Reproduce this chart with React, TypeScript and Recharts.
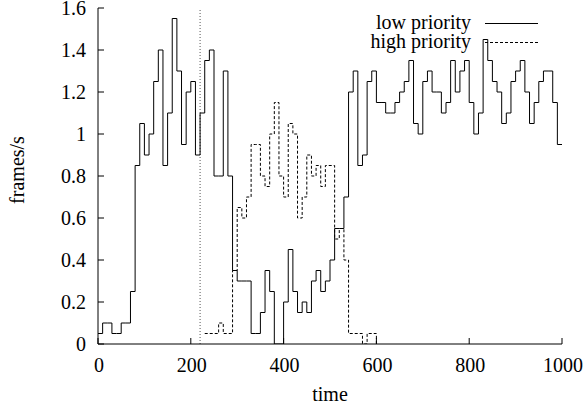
import React from "react";
import { LineChart, Line, XAxis, YAxis, ReferenceLine } from "recharts";

const times = [
  0, 10, 20, 30, 40, 50, 60, 70, 80, 90,
  100, 110, 120, 130, 140, 150, 160, 170, 180, 190,
  200, 210, 220, 230, 240, 250, 260, 270, 280, 290,
  300, 310, 320, 330, 340, 350, 360, 370, 380, 390,
  400, 410, 420, 430, 440, 450, 460, 470, 480, 490,
  500, 510, 520, 530, 540, 550, 560, 570, 580, 590,
  600, 610, 620, 630, 640, 650, 660, 670, 680, 690,
  700, 710, 720, 730, 740, 750, 760, 770, 780, 790,
  800, 810, 820, 830, 840, 850, 860, 870, 880, 890,
  900, 910, 920, 930, 940, 950, 960, 970, 980, 990,
  1000,
];

const lowPriority = [
  0.05, 0.1, 0.1, 0.05, 0.05, 0.1, 0.1, 0.25, 0.85, 1.05,
  0.9, 1.0, 1.25, 1.4, 0.85, 1.1, 1.55, 1.3, 0.95, 1.2,
  1.25, 0.9, 1.1, 1.35, 1.4, 0.8, 0.8, 1.3, 0.8, 0.35,
  0.3, 0.3, 0.3, 0.05, 0.05, 0.15, 0.35, 0.25, 0, 0,
  0.2, 0.45, 0.25, 0.15, 0.2, 0.15, 0.3, 0.35, 0.25, 0.3,
  0.4, 0.55, 0.55, 0.7, 1.2, 1.3, 0.85, 0.9, 1.25, 1.3,
  1.15, 1.15, 1.1, 1.1, 1.15, 1.2, 1.25, 1.35, 1.05, 1.0,
  1.25, 1.3, 1.2, 1.2, 1.1, 1.15, 1.35, 1.2, 1.3, 1.35,
  1.15, 1.0, 1.1, 1.45, 1.35, 1.25, 1.2, 1.05, 1.1, 1.25,
  1.3, 1.35, 1.2, 1.05, 1.15, 1.25, 1.3, 1.3, 1.15, 0.95,
  0.95,
];

// high priority starts at t=230 and ends at t=600
const highStartTime = 230;
const highPriority = [
  0.05, 0.05, 0.05, 0.1, 0.05, 0.05, 0.35,
  0.65, 0.6, 0.7, 0.95, 0.95, 0.8, 0.75, 1.0, 1.15, 0.8,
  0.7, 1.05, 1.0, 0.6, 0.7, 0.9, 0.8, 0.85, 0.75, 0.85,
  0.85, 0.5, 0.55, 0.4, 0.05, 0.05, 0.05, 0, 0.05, 0.05,
  0,
];

const seriesNames = ["low priority", "high priority"];
const xTicks = [0, 200, 400, 600, 800, 1000];
const yTicks = [0, 0.2, 0.4, 0.6, 0.8, 1, 1.2, 1.4, 1.6];
const markerTime = 220;

const highStartIdx = times.indexOf(highStartTime);
const data = times.map((t, i) => {
  const j = i - highStartIdx;
  return {
    time: t,
    low: lowPriority[i],
    high: j >= 0 && j < highPriority.length ? highPriority[j] : null,
  };
});

const FONT = "'Liberation Serif', 'Times New Roman', serif";
const FS = 20;

const fmt = (v: number) => String(Number(v.toFixed(1)));

const BottomTick = (props: any) => {
  const { x, y, payload } = props;
  return (
    <g>
      <line x1={x} x2={x} y1={y} y2={y - 6} stroke="#000" />
      <text x={x + 1} y={y + 27.5} textAnchor="middle" fontFamily={FONT} fontSize={FS} fill="#000">
        {fmt(payload.value)}
      </text>
    </g>
  );
};

const TopTick = (props: any) => {
  const { x, y } = props;
  return <line x1={x} x2={x} y1={y} y2={y + 6} stroke="#000" />;
};

const LeftTick = (props: any) => {
  const { x, y, payload } = props;
  return (
    <g>
      <line x1={x} x2={x + 6} y1={y} y2={y} stroke="#000" />
      <text x={x - 12} y={y + 7} textAnchor="end" fontFamily={FONT} fontSize={FS} fill="#000">
        {fmt(payload.value)}
      </text>
    </g>
  );
};

const RightTick = (props: any) => {
  const { x, y } = props;
  return <line x1={x} x2={x - 6} y1={y} y2={y} stroke="#000" />;
};

const XLabel = (props: any) => {
  const { viewBox } = props;
  return (
    <text
      x={viewBox.x + viewBox.width / 2}
      y={viewBox.y + 57}
      textAnchor="middle"
      fontFamily={FONT}
      fontSize={FS}
      fill="#000"
    >
      time
    </text>
  );
};

const YLabel = (props: any) => {
  const { viewBox } = props;
  const cx = viewBox.x + 24;
  const cy = viewBox.y + viewBox.height / 2 - 6;
  return (
    <text
      x={cx}
      y={cy}
      transform={`rotate(-90 ${cx} ${cy})`}
      textAnchor="middle"
      fontFamily={FONT}
      fontSize={FS}
      fill="#000"
    >
      frames/s
    </text>
  );
};

export default function App() {
  return (
    <div style={{ position: "absolute", left: 0, top: 0, width: 584, height: 407, background: "#fff" }}>
      <LineChart
        width={584}
        height={407}
        data={data}
        margin={{ top: 8, right: 22, left: 0, bottom: 0 }}
      >
        <XAxis
          dataKey="time"
          type="number"
          domain={[0, 1000]}
          ticks={xTicks}
          interval={0}
          height={63}
          tickSize={0}
          tickMargin={0}
          tickLine={false}
          axisLine={{ stroke: "#000" }}
          tick={<BottomTick />}
          allowDataOverflow
          label={<XLabel />}
        />
        <XAxis
          xAxisId="top"
          orientation="top"
          dataKey="time"
          type="number"
          domain={[0, 1000]}
          ticks={xTicks}
          interval={0}
          height={0}
          tickSize={0}
          tickMargin={0}
          tickLine={false}
          axisLine={{ stroke: "#000" }}
          tick={<TopTick />}
          allowDataOverflow
        />
        <YAxis
          type="number"
          domain={[0, 1.6]}
          ticks={yTicks}
          interval={0}
          width={98}
          tickSize={0}
          tickMargin={0}
          tickLine={false}
          axisLine={{ stroke: "#000" }}
          tick={<LeftTick />}
          allowDataOverflow
          label={<YLabel />}
        />
        <YAxis
          yAxisId="right"
          orientation="right"
          type="number"
          domain={[0, 1.6]}
          ticks={yTicks}
          interval={0}
          width={0}
          tickSize={0}
          tickMargin={0}
          tickLine={false}
          axisLine={{ stroke: "#000" }}
          tick={<RightTick />}
          allowDataOverflow
        />
        <ReferenceLine x={markerTime} stroke="#555" strokeDasharray="1 2" />
        <Line
          type="stepAfter"
          dataKey="low"
          name={seriesNames[0]}
          stroke="#000"
          strokeWidth={1}
          dot={false}
          activeDot={false}
          isAnimationActive={false}
        />
        <Line
          type="stepAfter"
          dataKey="high"
          name={seriesNames[1]}
          stroke="#000"
          strokeWidth={1}
          strokeDasharray="3 2"
          dot={false}
          activeDot={false}
          connectNulls={false}
          isAnimationActive={false}
        />
      </LineChart>
      <svg
        width={584}
        height={60}
        style={{ position: "absolute", left: 0, top: 0, pointerEvents: "none" }}
      >
        <text x={471} y={28.5} textAnchor="end" fontFamily={FONT} fontSize={FS} fill="#000">
          {seriesNames[0]}
        </text>
        <line x1={485} x2={538} y1={23.5} y2={23.5} stroke="#000" />
        <text x={471} y={47.5} textAnchor="end" fontFamily={FONT} fontSize={FS} fill="#000">
          {seriesNames[1]}
        </text>
        <line x1={485} x2={538} y1={42.5} y2={42.5} stroke="#000" strokeDasharray="3 2" />
      </svg>
    </div>
  );
}
